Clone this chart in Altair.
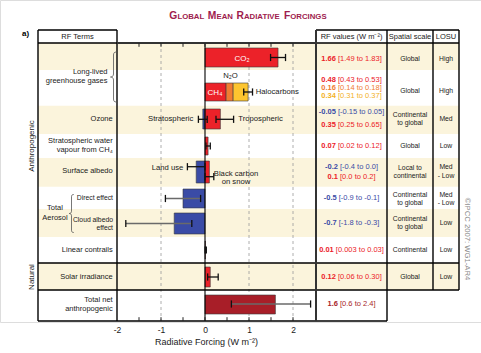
import altair as alt
import pandas as pd

FONT = "Liberation Sans"
RED = "#EC2229"
ORANGE = "#F07C31"
YELLOW = "#FDC52F"
BLUE = "#3A4BA6"
DARKRED = "#A81E28"
CREAM = "#FBF4DC"
TXT = "#1a1a1a"

# ---- horizontal mapping of the layout (W m-2 scale spans the whole figure) ----
ZERO_PX = 205.0
PX_PER_UNIT = 44.0
W, H = 481, 322


def ux(px):
    return (px - ZERO_PX) / PX_PER_UNIT


# ---------------- data ----------------
bar_term = ["CO2", "CH4", "N2O", "Halocarbons", "Stratospheric ozone", "Tropospheric ozone",
            "Stratospheric water vapour", "Land use", "Black carbon on snow", "Direct effect",
            "Cloud albedo effect", "Linear contrails", "Solar irradiance", "Total net anthropogenic"]
bar_value = [1.66, 0.48, 0.16, 0.34, -0.05, 0.35, 0.07, -0.2, 0.1, -0.5, -0.7, 0.01, 0.12, 1.6]
bar_row = [0, 1, 1, 1, 2, 2, 3, 4, 4, 5, 6, 7, 8, 9]
bar_stacked = [False, True, True, True, False, False, False, False, False, False, False, False, False, False]
bar_color = [RED, RED, ORANGE, YELLOW, BLUE, RED, RED, BLUE, RED, BLUE, BLUE, RED, RED, DARKRED]

err_low = [1.49, 0.88, -0.15, 0.25, 0.02, -0.4, 0.0, -0.9, -1.8, 0.003, 0.06, 0.6]
err_high = [1.83, 1.08, 0.05, 0.65, 0.12, 0.0, 0.2, -0.1, -0.3, 0.03, 0.30, 2.4]
err_ypos = [57.5, 92, 119.3, 119.3, 146, 166.7, 176.7, 198.5, 223.5, 250, 277, 304]
err_color = ["#111"] * 7 + ["#6a6a6a", "#6a6a6a", "#111", "#111", "#6a6a6a"]

# vertical layout rows (layout units)
row_edges = [43, 70, 105.7, 134, 158, 186.7, 209, 237, 263, 290, 321]
row_cream = [1, 0, 1, 0, 1, 0, 1, 0, 1, 0]
bar_top = [48, 83, 109, 137, 161, 189, 213, 241, 267, 295]
bar_bottom = [67, 101, 129, 155, 183, 208, 234, 259, 287, 314]

axis_values = [-2, -1, 0, 1, 2]
minor_ticks = [-1.5, -1, -0.5, 0, 0.5, 1, 1.5, 2]
dashed_at = [-1, 1, 2]

rf_values = [("1.66", "[1.49 to 1.83]", RED, 59),
             ("0.48", "[0.43 to 0.53]", RED, 80),
             ("0.16", "[0.14 to 0.18]", ORANGE, 88),
             ("0.34", "[0.31 to 0.37]", "#F3B21F", 96),
             ("-0.05", "[-0.15 to 0.05]", BLUE, 111.7),
             ("0.35", "[0.25 to 0.65]", RED, 125),
             ("0.07", "[0.02 to 0.12]", RED, 146),
             ("-0.2", "[-0.4 to 0.0]", BLUE, 166.7),
             ("0.1", "[0.0 to 0.2]", RED, 176.7),
             ("-0.5", "[-0.9 to -0.1]", BLUE, 198.3),
             ("-0.7", "[-1.8 to -0.3]", BLUE, 223.3),
             ("0.01", "[0.003 to 0.03]", RED, 250),
             ("0.12", "[0.06 to 0.30]", RED, 276.7),
             ("1.6", "[0.6 to 2.4]", DARKRED, 304)]

spatial = [("Global", 59), ("Global", 90.7), ("Continental", 115.3), ("to global", 123.3),
           ("Global", 146), ("Local to", 167.7), ("continental", 175.7),
           ("Continental", 195), ("to global", 202.7), ("Continental", 219.3), ("to global", 227.3),
           ("Continental", 250), ("Global", 276.7)]
losu = [("High", 59), ("High", 90.7), ("Med", 119.3), ("Low", 146), ("Med", 167.3), ("- Low", 175.7),
        ("Med", 195), ("- Low", 202.7), ("Low", 223.3), ("Low", 250), ("Low", 276.7)]

# ---------------- text width helper (Arial / Liberation Sans metrics) ----------------
REG = {" ": 278, ".": 278, "-": 333, "[": 278, "]": 278, "t": 278, "o": 556}
BOLD = {" ": 278, ".": 278, "-": 333, "A": 722, "B": 722, "C": 722, "D": 722, "E": 667, "F": 611,
        "G": 778, "I": 278, "L": 611, "M": 833, "N": 722, "O": 778, "R": 722, "S": 667, "T": 611, "V": 667}


def tw(s, fs, table):
    return sum(table.get(c, 556) for c in s) * fs / 1000.0


texts = []


def T(text, xpx, y, size=7.5, color=TXT, align="center", weight="normal", angle=0, baseline="middle"):
    texts.append(dict(text=text, x=ux(xpx), y=y, size=size, color=color, align=align,
                      weight=weight, angle=angle, baseline=baseline))


# title in small caps
words = ["GLOBAL", "MEAN", "RADIATIVE", "FORCINGS"]
BIG, SMALL, GAP = 10.3, 7.8, 3.6
TITLE_C = "#9E1C4E"
total = sum(tw(w_[0], BIG, BOLD) + tw(w_[1:], SMALL, BOLD) for w_ in words) + GAP * (len(words) - 1)
cx = 248 - total / 2
for w_ in words:
    T(w_[0], cx, 19, BIG, TITLE_C, "left", "bold", baseline="alphabetic")
    cx += tw(w_[0], BIG, BOLD)
    T(w_[1:], cx, 19, SMALL, TITLE_C, "left", "bold", baseline="alphabetic")
    cx += tw(w_[1:], SMALL, BOLD) + GAP

T("a)", 25.5, 33.5, 8, "#000", weight="bold")
T("Anthropogenic", 32, 146, 8, TXT, angle=270)
T("Natural", 32, 277, 8, TXT, angle=270)
T("\u00a9IPCC 2007: WG1-AR4", 466.5, 239, 7.7, "#8a8a8a", angle=90)

# headers
for t, xp in [("RF Terms", 77.5), ("RF values (W m\u207b\u00b2)", 351.5), ("Spatial scale", 410), ("LOSU", 446)]:
    T(t, xp, 36.7, 7.5)

# RF term labels
for t, xp, y, fs in [("Long-lived", 107.5, 71.5, 7.5), ("greenhouse gases", 107.5, 80.5, 7.5),
                     ("Ozone", 112.7, 119.3, 7.5), ("Stratospheric water", 112.7, 140.5, 7.5),
                     ("vapour from CH\u2084", 112.7, 150, 7.5), ("Surface albedo", 112.7, 171, 7.5),
                     ("Direct effect", 113, 198.3, 6.8), ("Cloud albedo", 113, 219.5, 6.8),
                     ("effect", 113, 228, 6.8), ("Linear contrails", 112.7, 250, 7.5),
                     ("Solar irradiance", 112.7, 276.7, 7.5), ("Total net", 112.7, 299.5, 7.5),
                     ("anthropogenic", 112.7, 308.5, 7.5)]:
    T(t, xp, y, fs, align="right")
T("Total", 55, 208.3)
T("Aerosol", 55, 217.7)

# in-plot labels
T("Stratospheric", 193.3, 119.3, 7.7, align="right")
T("Land use", 183.3, 167.5, 7.7, align="right")
T("Tropospheric", 238.3, 119.3, 7.7, align="left")
T("Halocarbons", 255.7, 91.7, 7.7, align="left")
T("N\u2082O", 230.5, 76, 7.7)
T("Black carbon", 236, 173.5, 7.7)
T("on snow", 236, 181.5, 7.7)
T("CO\u2082", 242, 58.5, 8, "#ffffff")
T("CH\u2084", 215, 92.5, 8, "#ffffff")

# RF values (bold value + regular range)
FSV = 7.5
for v, r, col, y in rf_values:
    wb = tw(v, FSV, BOLD)
    ws = tw(" ", FSV, REG)
    wn = tw(r, FSV, REG)
    left = 351.5 - (wb + ws + wn) / 2
    T(v, left, y, FSV, col, "left", "bold")
    T(r, left + wb + ws, y, FSV, col, "left")

for t, y in spatial:
    T(t, 410, y, 6.8)
for t, y in losu:
    T(t, 446, y, 6.8)

# ---------------- scales / shared axis ----------------
xs = alt.Scale(domain=[ux(0), ux(W)], nice=False, zero=False)
ys = alt.Scale(domain=[0, H], reverse=True, nice=False, zero=False)
AX = alt.Axis(values=axis_values, labelExpr="'' + datum.value", domain=False, ticks=False,
              grid=False, labelFont=FONT, labelFontSize=8.5, labelColor=TXT, labelPadding=3,
              title="Radiative Forcing  (W m\u207b\u00b2)", titleFont=FONT, titleFontSize=9,
              titleFontWeight="normal", titleColor=TXT, titleX=206, titleY=19,
              titleBaseline="middle", titleAlign="center", labelFlush=False, labelOverlap=False)


def X(f="x"):
    return alt.X(f"{f}:Q", scale=xs, axis=AX)


def Y(f="y"):
    return alt.Y(f"{f}:Q", scale=ys, axis=None)


stripe_df = pd.DataFrame([dict(x=ux(38), x2=ux(459), y=row_edges[i], y2=row_edges[i + 1])
                          for i in range(len(row_cream)) if row_cream[i]])
stripes = alt.Chart(stripe_df).mark_rect(color=CREAM).encode(x=X(), x2="x2", y=Y(), y2="y2")

dash_df = pd.DataFrame(dict(x=dashed_at, y=[row_edges[0]] * 3, y2=[row_edges[-1]] * 3))
dashes = alt.Chart(dash_df).mark_rule(color="#9a9a9a", strokeDash=[3, 3], strokeWidth=0.8).encode(
    x=X(), y=Y(), y2="y2")

# bars
rows = []
stack_acc = 0.0
for term, v, r, st, c in zip(bar_term, bar_value, bar_row, bar_stacked, bar_color):
    base = stack_acc if st else 0.0
    rows.append(dict(term=term, x=base, x2=base + v, y=bar_top[r], y2=bar_bottom[r], color=c))
    if st:
        stack_acc += v
bar_df = pd.DataFrame(rows)
bars = alt.Chart(bar_df).mark_rect(stroke="#3a3a3a", strokeWidth=0.6).encode(
    x=X(), x2="x2", y=Y(), y2="y2", color=alt.Color("color:N", scale=None))

zero_df = pd.DataFrame(dict(x=[0], y=[row_edges[0]], y2=[row_edges[-1]]))
zero = alt.Chart(zero_df).mark_rule(color="#000", strokeWidth=1.1).encode(x=X(), y=Y(), y2="y2")

err_df = pd.DataFrame(dict(lo=err_low, hi=err_high, y=err_ypos, color=err_color))
err_lines = alt.Chart(err_df).mark_rule(strokeWidth=1.3).encode(
    x=X("lo"), x2="hi", y=Y(), color=alt.Color("color:N", scale=None))
cap_rows = []
for lo, hi, y in zip(err_low, err_high, err_ypos):
    for v in (lo, hi):
        cap_rows.append(dict(x=v, y=y - 3.6, y2=y + 3.6))
caps = alt.Chart(pd.DataFrame(cap_rows)).mark_rule(color="#111", strokeWidth=1.3).encode(
    x=X(), y=Y(), y2="y2")

# table and frame lines
seg = []
for x1, x2, y in [(38, 117, 30), (316, 459, 30), (38, 117, 43), (316, 459, 43),
                  (38, 459, 263), (38, 459, 290), (38, 387, 321)]:
    seg.append(dict(x=ux(x1), x2=ux(x2), y=y, y2=y))
for xp, y1, y2 in [(38, 30, 321), (117, 30, 321), (387, 30, 321), (433, 30, 290), (459, 30, 290)]:
    seg.append(dict(x=ux(xp), x2=ux(xp), y=y1, y2=y2))
frame = alt.Chart(pd.DataFrame(seg)).mark_rule(color="#000", strokeWidth=1.4).encode(
    x=X(), x2="x2", y=Y(), y2="y2")
thick = pd.DataFrame([dict(x=ux(117), x2=ux(316), y=43, y2=43),
                      dict(x=ux(316), x2=ux(316), y=30, y2=321)])
frame2 = alt.Chart(thick).mark_rule(color="#333", strokeWidth=2).encode(x=X(), x2="x2", y=Y(), y2="y2")

tick_rows = []
for t in minor_ticks:
    tick_rows.append(dict(x=t, y=43, y2=46.8))
    tick_rows.append(dict(x=t, y=317.2, y2=321))
ticks = alt.Chart(pd.DataFrame(tick_rows)).mark_rule(color="#222", strokeWidth=1).encode(
    x=X(), y=Y(), y2="y2")

# braces (custom symbol shape)
BRACE = ("M 0.12 -1 C 0.03 -1 0 -0.96 0 -0.88 L 0 -0.12 C 0 -0.04 -0.05 0 -0.12 0 "
         "C -0.05 0 0 0.04 0 0.12 L 0 0.88 C 0 0.96 0.03 1 0.12 1")
brace_layers = []
for bx, by, bs in [(113.5, 77, 2500), (71.5, 213.5, 1444)]:
    brace_layers.append(
        alt.Chart(pd.DataFrame(dict(x=[ux(bx)], y=[by]))).mark_point(
            shape=BRACE, filled=False, stroke="#555", strokeWidth=0.8, opacity=1, size=bs).encode(
            x=X(), y=Y()))

# text layers grouped by style (styles as mark properties)
tdf = pd.DataFrame(texts)
text_layers = []
for (al, wt, an, bl, sz, col), g in tdf.groupby(["align", "weight", "angle", "baseline", "size", "color"]):
    text_layers.append(
        alt.Chart(g[["x", "y", "text"]].reset_index(drop=True)).mark_text(
            align=al, fontWeight=wt, angle=int(an), baseline=bl, font=FONT,
            fontSize=float(sz), color=col).encode(x=X(), y=Y(), text="text:N"))

chart = alt.layer(stripes, dashes, bars, zero, err_lines, caps, frame, frame2, ticks, *brace_layers,
                  *text_layers).resolve_scale(color="independent").properties(
    width=W, height=H, autosize=alt.AutoSizeParams(type="none"),
    padding={"left": 0, "top": 0, "right": 0, "bottom": 31}
).configure_view(stroke=None).configure(background="white")

chart.save("out.html", embed_options={"renderer": "svg", "actions": False})
